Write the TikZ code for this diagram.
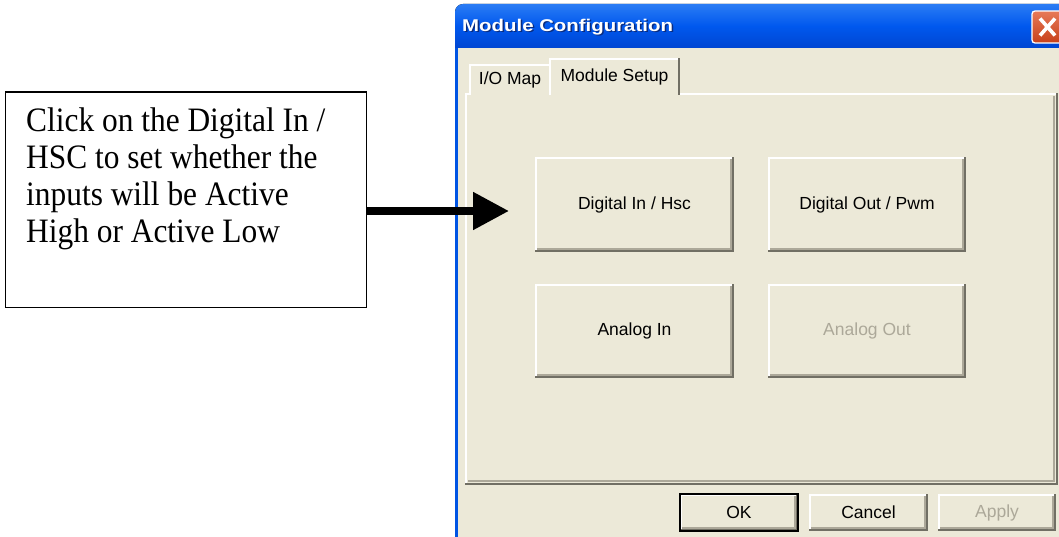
\documentclass[tikz,border=0pt]{standalone}
\usepackage{fontspec}
\setmainfont{Liberation Serif}
\setsansfont{Liberation Sans}
\usetikzlibrary{arrows.meta}

\definecolor{xpface}{HTML}{ECE9D8}
\definecolor{xpshadow}{HTML}{ACA899}
\definecolor{xpdkshadow}{HTML}{716F64}
\definecolor{xpblue}{HTML}{0054E3}
\definecolor{xptitletop}{HTML}{2B7CF4}
\definecolor{xptitlemid}{HTML}{0058EE}
\definecolor{xptitlebot}{HTML}{0046D2}
\definecolor{xptitleshadow}{HTML}{0A2C80}
\definecolor{xpgraytext}{HTML}{ACA899}
\definecolor{xpclosetop}{HTML}{E77A58}
\definecolor{xpclosebot}{HTML}{C7401A}

\tikzset{
  uifont/.style={font=\sffamily\fontsize{17.5}{20}\selectfont},
  % raised 3D bevel drawn inside a node
  bevel/.style={path picture={
    \draw[white,line width=2pt]
      ([xshift=1pt]path picture bounding box.south west)
      -- ([shift={(1pt,-1pt)}]path picture bounding box.north west)
      -- ([yshift=-1pt]path picture bounding box.north east);
    \draw[xpshadow,line width=1.2pt]
      ([shift={(2pt,3pt)}]path picture bounding box.south west)
      -- ([shift={(-3pt,3pt)}]path picture bounding box.south east)
      -- ([shift={(-3pt,-2pt)}]path picture bounding box.north east);
    \draw[xpdkshadow,line width=2pt]
      ([yshift=1pt]path picture bounding box.south west)
      -- ([shift={(-1pt,1pt)}]path picture bounding box.south east)
      -- ([xshift=-1pt]path picture bounding box.north east);
  }},
  btn/.style={uifont, fill=xpface, inner sep=0pt, bevel, text=black},
  gray btn/.style={btn, text=xpgraytext},
  tabstyle/.style={uifont, fill=xpface, inner sep=0pt, path picture={
    \draw[white,line width=2pt]
      ([xshift=1pt]path picture bounding box.south west)
      -- ([shift={(1pt,-1pt)}]path picture bounding box.north west)
      -- ([yshift=-1pt]path picture bounding box.north east);
    \draw[xpdkshadow,line width=1.5pt]
      ([xshift=-1pt]path picture bounding box.north east)
      -- ([xshift=-1pt]path picture bounding box.south east);
  }},
  notefont/.style={font=\fontsize{31.4}{33.7}\selectfont},
}

\begin{document}
\begin{tikzpicture}[x=1pt,y=-1pt]
\useasboundingbox (0,0) rectangle (1059,537);
\fill[white] (0,0) rectangle (1059,537);

% ---- dialog window body ----
\fill[xpface] (455,44) rectangle (1059,537);
\fill[xpblue] (455,44) rectangle (457.5,537);

% ---- title bar ----
\fill[top color=xptitletop, bottom color=xptitlebot, middle color=xptitlemid]
  (455,48) [rounded corners=8pt] -- (455,4) [sharp corners] -- (1075,4) -- (1075,48) -- cycle;
\node[anchor=west, inner sep=0pt, text=xptitleshadow,
      font=\sffamily\bfseries\fontsize{17}{20}\selectfont] (titleshade) at (463.5,28.5)
  {\scalebox{1.2}[1]{Module Configuration}};
\node[anchor=west, inner sep=0pt, text=white,
      font=\sffamily\bfseries\fontsize{17}{20}\selectfont] (title) at (462,27)
  {\scalebox{1.2}[1]{Module Configuration}};

% close button
\node[draw=white, line width=1.3pt, rounded corners=3pt,
      top color=xpclosetop, bottom color=xpclosebot,
      minimum width=31pt, minimum height=32pt, inner sep=0pt,
      path picture={
        \draw[white, line width=3.6pt]
          ([shift={(-7.5pt,8.5pt)}]path picture bounding box.center)
          -- ([shift={(7.5pt,-8.5pt)}]path picture bounding box.center);
        \draw[white, line width=3.6pt]
          ([shift={(-7.5pt,-8.5pt)}]path picture bounding box.center)
          -- ([shift={(7.5pt,8.5pt)}]path picture bounding box.center);
      }] (close) at (1047.5,27) {};

% ---- tab page ----
\fill[xpface] (466,94) rectangle (1056,483);
\draw[white, line width=2pt] (466,483) -- (466,94) -- (1056,94);
\draw[xpshadow, line width=1.2pt] (468,481) -- (1054,481) -- (1054,96);
\draw[xpdkshadow, line width=2pt] (465,483.5) -- (1056.5,483.5) -- (1056.5,93);

% tabs
\node[tabstyle, minimum width=82pt, minimum height=31pt] (tabio) at (510,79.5) {I/O Map};
\node[tabstyle, minimum width=131pt, minimum height=37pt] (tabsetup) at (614.5,77) {Module Setup};

% ---- buttons on the tab page ----
\node[btn, minimum width=199pt, minimum height=95pt] (dIn)  at (634.5,204.5) {Digital In / Hsc};
\node[btn, minimum width=198pt, minimum height=95pt] (dOut) at (867,204.5)   {Digital Out / Pwm};
\node[btn, minimum width=199pt, minimum height=94pt] (aIn)  at (634.5,331)   {Analog In};
\node[gray btn, minimum width=198pt, minimum height=94pt] (aOut) at (867,331) {Analog Out};

% ---- dialog buttons ----
\node[btn, draw=black, line width=1.2pt, minimum width=118pt, minimum height=37pt] (ok) at (739,512.5) {OK};
\node[btn, minimum width=119pt, minimum height=37pt] (cancel) at (868.5,512.5) {Cancel};
\node[gray btn, minimum width=118pt, minimum height=37pt] (apply) at (997,512.5) {Apply};

% ---- callout ----
\node[draw=black, line width=1.3pt, fill=white, inner sep=0pt, anchor=north west,
      minimum width=361pt, minimum height=215pt] (box) at (5,91.5) {};
\node[notefont, anchor=north west, inner sep=0pt] (note) at (26,106)
  {\scalebox{1}[1.09]{\begin{tabular}{@{}l@{}}Click on the Digital In /\\HSC to set whether the\\inputs will be Active\\High or Active Low\end{tabular}}};

\coordinate (tip) at (509,211);
\draw[line width=8pt, -{Triangle[length=36pt,width=36pt]}] (box.east |- tip) -- (tip);
\end{tikzpicture}
\end{document}
